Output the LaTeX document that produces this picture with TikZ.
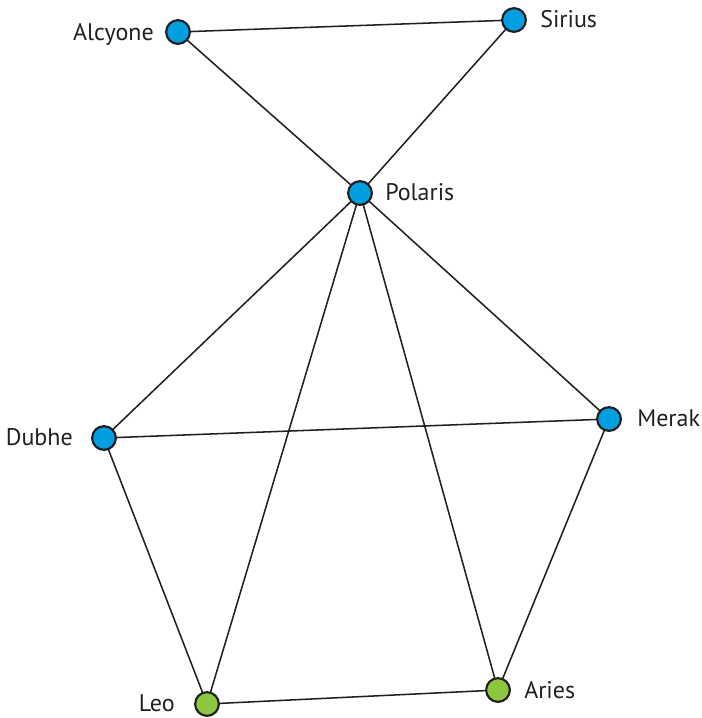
\documentclass[tikz,border=0pt]{standalone}
\usepackage{fontspec}
\setmainfont{PT Sans}
\definecolor{starblue}{HTML}{009FDF}
\definecolor{stargreen}{HTML}{8DC63F}
\definecolor{outline}{HTML}{231F20}
\begin{document}
\begin{tikzpicture}[x=0.75pt,y=-0.75pt,
  star/.style={circle,draw=outline,line width=1.6pt,minimum size=17.8pt,inner sep=0pt},
  bluestar/.style={star,fill=starblue},
  greenstar/.style={star,fill=stargreen},
  lbl/.style={inner sep=0pt,text=outline,font=\fontsize{18pt}{21pt}\selectfont},
  edge/.style={draw=outline,line width=1.15pt}]
\useasboundingbox (0,0) rectangle (702,718);
\coordinate (cAlcyone) at (178,32);
\coordinate (cSirius) at (514,20);
\coordinate (cPolaris) at (360,193);
\coordinate (cDubhe) at (104,438);
\coordinate (cMerak) at (609,419);
\coordinate (cLeo) at (207,704);
\coordinate (cAries) at (498,690);
\path[edge] (cAlcyone) -- (cSirius)
  (cAlcyone) -- (cPolaris)
  (cSirius) -- (cPolaris)
  (cPolaris) -- (cDubhe)
  (cPolaris) -- (cLeo)
  (cPolaris) -- (cAries)
  (cPolaris) -- (cMerak)
  (cDubhe) -- (cMerak)
  (cDubhe) -- (cLeo)
  (cMerak) -- (cAries)
  (cLeo) -- (cAries);
\node[bluestar] (Alcyone) at (cAlcyone) {};
\node[bluestar] (Sirius) at (cSirius) {};
\node[bluestar] (Polaris) at (cPolaris) {};
\node[bluestar] (Dubhe) at (cDubhe) {};
\node[bluestar] (Merak) at (cMerak) {};
\node[greenstar] (Leo) at (cLeo) {};
\node[greenstar] (Aries) at (cAries) {};
\node[lbl,anchor=base east] (lAlcyone) at (154,40) {Alcyone};
\node[lbl,anchor=base west] (lSirius) at (540,27) {Sirius};
\node[lbl,anchor=base west] (lPolaris) at (385,200) {Polaris};
\node[lbl,anchor=base east] (lDubhe) at (73,445) {Dubhe};
\node[lbl,anchor=base west] (lMerak) at (637,426) {Merak};
\node[lbl,anchor=base east] (lLeo) at (175,711) {Leo};
\node[lbl,anchor=base west] (lAries) at (524,698) {Aries};
\end{tikzpicture}
\end{document}
